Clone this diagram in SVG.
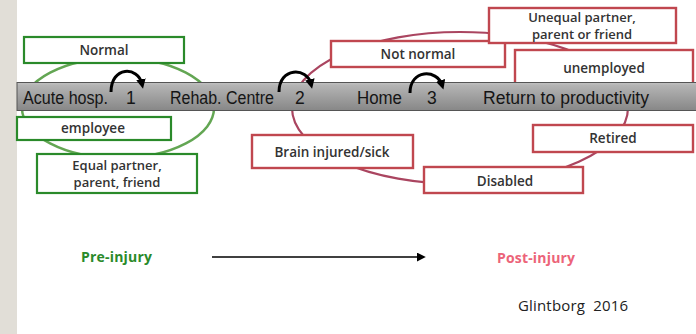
<svg xmlns="http://www.w3.org/2000/svg" width="696" height="334" viewBox="0 0 696 334">
<style>
.gbox{fill:#fff;stroke:#2a8a2a;stroke-width:2.2}
.rbox{fill:#fff;stroke:#c0474f;stroke-width:2.4}
.bt{font-family:"Open Sans","Liberation Sans",sans-serif;font-weight:600;font-size:13.5px;fill:#333;text-anchor:middle}
.bt2{font-size:13px}
.bar{font-family:"Liberation Sans",Arial,sans-serif;font-size:17.5px;fill:#151515}
.con{fill:none;stroke:#000;stroke-width:3}
</style>
<defs>
<linearGradient id="barg" x1="0" y1="0" x2="0" y2="1">
<stop offset="0" stop-color="#c4c4c4"/>
<stop offset="0.1" stop-color="#b4b4b4"/>
<stop offset="1" stop-color="#878787"/>
</linearGradient>
<marker id="ah" viewBox="0 0 10 10" refX="5" refY="5" markerWidth="3.2" markerHeight="3.2" orient="auto" markerUnits="strokeWidth">
<path d="M0,0 L10,5 L0,10 z" fill="#000"/>
</marker>
<marker id="ah2" viewBox="0 0 10 10" refX="8" refY="5" markerWidth="6" markerHeight="6" orient="auto" markerUnits="strokeWidth">
<path d="M0,0 L10,5 L0,10 z" fill="#000"/>
</marker>
</defs>
<rect x="0" y="0" width="696" height="334" fill="#fff"/>
<rect x="0" y="0" width="17" height="334" fill="#e1ded7"/>
<ellipse id="pre-circle" cx="118" cy="108" rx="96" ry="50" fill="none" stroke="#63a653" stroke-width="2.5"/>
<ellipse id="post-circle" cx="460" cy="108" rx="168" ry="76" fill="none" stroke="#aa4560" stroke-width="2.2"/>
<g id="normal"><rect class="gbox" x="24" y="37" width="160" height="26"/><text class="bt" x="104" y="55">Normal</text></g>
<g id="employee"><rect class="gbox" x="17" y="117" width="154" height="23"/><text class="bt" x="93" y="133">employee</text></g>
<g id="equal"><rect class="gbox" x="37" y="154" width="160" height="39"/><text class="bt bt2" x="117" y="170">Equal partner,</text><text class="bt bt2" x="117" y="187">parent, friend</text></g>
<g id="notnormal"><rect class="rbox" x="331" y="41" width="174" height="26"/><text class="bt" x="418" y="58.5">Not normal</text></g>
<g id="unequal"><rect class="rbox" x="489" y="8" width="187" height="35"/><text class="bt bt2" x="582" y="22">Unequal partner,</text><text class="bt bt2" x="582" y="38.5">parent or friend</text></g>
<g id="unemployed"><rect class="rbox" x="515" y="50" width="178" height="36"/><text class="bt" x="604" y="73">unemployed</text></g>
<g id="retired"><rect class="rbox" x="533" y="125" width="160" height="27"/><text class="bt" x="613" y="143">Retired</text></g>
<g id="brain"><rect class="rbox" x="252" y="135" width="161" height="33"/><text class="bt" x="332" y="157">Brain injured/sick</text></g>
<g id="disabled"><rect class="rbox" x="424" y="167" width="159" height="26"/><text class="bt" x="505" y="186">Disabled</text></g>
<g id="timeline">
<rect x="17" y="82.5" width="680" height="28" fill="url(#barg)" stroke="#555" stroke-width="1"/>
<text class="bar" x="23" y="104" textLength="85" lengthAdjust="spacingAndGlyphs">Acute hosp.</text>
<text class="bar" x="126" y="104">1</text>
<text class="bar" x="170" y="104" textLength="104" lengthAdjust="spacingAndGlyphs">Rehab. Centre</text>
<text class="bar" x="295" y="104">2</text>
<text class="bar" x="357" y="104" textLength="45" lengthAdjust="spacingAndGlyphs">Home</text>
<text class="bar" x="427" y="104">3</text>
<text class="bar" x="483" y="104" textLength="166" lengthAdjust="spacingAndGlyphs">Return to productivity</text>
</g>
<g id="connectors">
<path class="con" d="M111,92 C111,66 138,66 142,84" marker-end="url(#ah)"/>
<path class="con" d="M279,92 C279,67 307,67 311,84" marker-end="url(#ah)"/>
<path class="con" d="M410,93 C410,69 437,69 442,85" marker-end="url(#ah)"/>
<path d="M212,257 L424,257" fill="none" stroke="#000" stroke-width="1.5" marker-end="url(#ah2)"/>
</g>
<g id="labels">
<text x="81" y="262" font-family="'Open Sans','Liberation Sans',sans-serif" font-weight="700" font-size="14" fill="#2a8a2a" textLength="71">Pre-injury</text>
<text x="497" y="263" font-family="'Open Sans','Liberation Sans',sans-serif" font-weight="700" font-size="14" fill="#ec6479" textLength="78">Post-injury</text>
<text x="518" y="311" font-family="'Open Sans','Liberation Sans',sans-serif" font-size="15" fill="#222" textLength="110" xml:space="preserve">Glintborg  2016</text>
</g>
</svg>
